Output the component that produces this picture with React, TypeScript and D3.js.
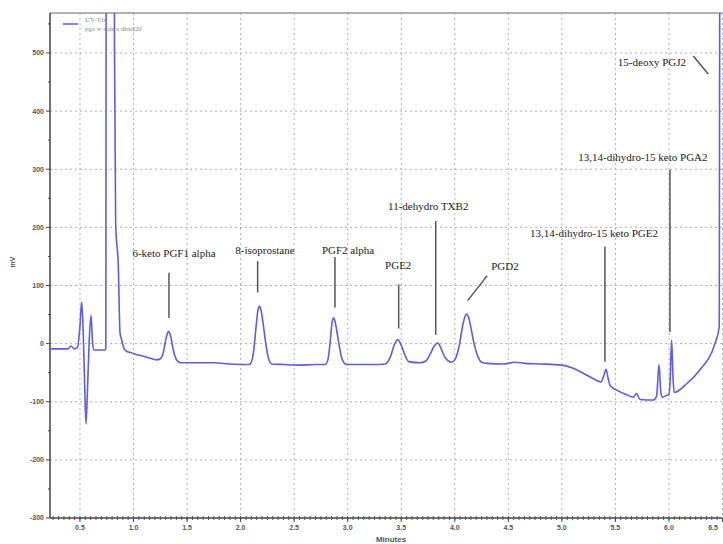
import React from 'react';
import * as d3 from 'd3';

// chromatogram trace (minutes, mV)
const retentionTimes = [
  0.22, 0.388, 0.416, 0.444, 0.475, 0.5, 0.516, 0.53, 0.545, 0.556, 0.568, 0.585, 0.603, 0.618, 0.632,
  0.735, 0.741, 0.746, 0.82, 0.822, 0.833, 0.858, 0.874, 0.889, 0.92, 0.998, 1.1, 1.216,
  1.25, 1.28, 1.3, 1.315, 1.327, 1.34, 1.355, 1.375, 1.41, 1.44, 1.6, 1.75, 1.9, 2.06,
  2.088, 2.12, 2.145, 2.162, 2.176, 2.19, 2.21, 2.235, 2.26, 2.29, 2.4, 2.55, 2.7,
  2.79, 2.815, 2.84, 2.855, 2.868, 2.882, 2.9, 2.925, 2.95, 2.99, 3.1, 3.25, 3.35,
  3.4, 3.435, 3.455, 3.468, 3.482, 3.505, 3.535, 3.57, 3.675, 3.73, 3.77, 3.805, 3.828, 3.842, 3.856, 3.88, 3.91, 3.971,
  4.0, 4.04, 4.075, 4.098, 4.112, 4.126, 4.15, 4.18, 4.215, 4.25, 4.3, 4.45, 4.562, 4.65, 4.8, 5.0,
  5.1, 5.2, 5.29, 5.365, 5.39, 5.412, 5.43, 5.45, 5.512, 5.605, 5.667, 5.698, 5.729, 5.854,
  5.885, 5.907, 5.925, 5.94, 5.979, 5.998, 6.01, 6.025, 6.038, 6.05, 6.165, 6.289, 6.429, 6.47, 6.476,
];
const signalMv = [
  -9, -9, -4, -9, -7, 30, 72, 20, -80, -138, -90, 0, 49, 0, -11,
  -11, -8, 900, 900, 517, 207, 132, 18, 6, -11, -17, -22, -28,
  -26, -14, 6, 17, 21, 17, 5, -14, -30, -33, -33, -33, -35, -36,
  -35, -15, 30, 58, 64, 58, 35, 0, -25, -35, -36, -37, -36,
  -36, -28, 10, 38, 44, 38, 20, -8, -28, -36, -36, -36, -35,
  -22, -2, 5, 7, 4, -5, -20, -31, -33, -30, -18, -5, 0, 1, -2, -12, -24, -32,
  -28, -5, 32, 48, 51, 47, 28, 0, -22, -32, -34, -35, -32, -34, -35, -37,
  -42, -51, -60, -66, -56, -44, -58, -72, -80, -88, -92, -86, -96, -97,
  -90, -36, -85, -92, -89, -88, -68, 6, -60, -84, -69, -45, 0, 29, 900,
];

// peak annotations: label, label anchor (min, mV), leader line from/to (min, mV)
const peakNames = [
  '6-keto PGF1 alpha', '8-isoprostane', 'PGF2 alpha', 'PGE2', '11-dehydro TXB2', 'PGD2',
  '13,14-dihydro-15 keto PGE2', '13,14-dihydro-15 keto PGA2', '15-deoxy PGJ2',
];
const labelAt = [
  [1.378, 155], [2.227, 160], [3.003, 160], [3.472, 135], [3.752, 237], [4.469, 134],
  [5.3, 190], [5.757, 321], [5.841, 485],
];
const leaderFrom = [
  [1.331, 122], [2.159, 142], [2.881, 149], [3.476, 102], [3.822, 211], [4.303, 117],
  [5.402, 167], [6.009, 299], [6.227, 495],
];
const leaderTo = [
  [1.331, 44], [2.159, 88], [2.881, 62], [3.476, 26], [3.822, 15], [4.12, 74],
  [5.402, -31], [6.009, 20], [6.367, 464],
];

const xTicks = [0.5, 1.0, 1.5, 2.0, 2.5, 3.0, 3.5, 4.0, 4.5, 5.0, 5.5, 6.0, 6.5];
const yTicks = [-300, -200, -100, 0, 100, 200, 300, 400, 500];
const legendLines = ['UV-Vis', 'pgs w stds a dhx020'];

const W = 723;
const H = 544;
const left = 50, right = 722.5, top = 13, bottom = 518;

export default function App() {
  const x = d3.scaleLinear().domain([0.22, 6.5]).range([left, right]);
  const y = d3.scaleLinear().domain([-300, 568.8]).range([bottom, top]);

  const pts = retentionTimes.map((t, i) => [t, signalMv[i]] as [number, number]);
  const line = d3.line<[number, number]>()
    .x(d => x(d[0]))
    .y(d => y(d[1]))
    .curve(d3.curveMonotoneX);

  const minorY = d3.range(-300, 569, 50);
  const minorX = d3.range(0.25, 6.5, 0.05);
  const axisFont = 'Arial, "Liberation Sans", sans-serif';

  return (
    <svg width={W} height={H} style={{ position: 'absolute', left: 0, top: 0, background: '#fff' }}>
      <defs>
        <clipPath id="plot">
          <rect x={left} y={top} width={right - left} height={bottom - top} />
        </clipPath>
      </defs>

      {/* grid */}
      {xTicks.map(t => (
        <line key={'gx' + t} x1={x(t)} x2={x(t)} y1={top} y2={bottom}
          stroke="#b0b0b0" strokeWidth={1} strokeDasharray="2,3" />
      ))}
      {yTicks.slice(1).map(v => (
        <line key={'gy' + v} x1={left} x2={right} y1={y(v)} y2={y(v)}
          stroke="#b0b0b0" strokeWidth={1} strokeDasharray="2,3" />
      ))}

      {/* frame */}
      <line x1={left} x2={right} y1={top} y2={top} stroke="#999" strokeWidth={1.5} />
      <line x1={left} x2={left} y1={top} y2={bottom} stroke="#444" strokeWidth={1.5} />
      <line x1={left} x2={right} y1={bottom} y2={bottom} stroke="#444" strokeWidth={1.5} />

      {/* y axis ticks */}
      {minorY.map(v => (
        <line key={'my' + v} x1={left - (v % 100 === 0 ? 4 : 2)} x2={left} y1={y(v)} y2={y(v)}
          stroke="#444" strokeWidth={1} />
      ))}
      {yTicks.map(v => (
        <text key={'ty' + v} x={left - 6} y={y(v)} dy="0.35em" textAnchor="end"
          fontSize={7} fontWeight="bold" fill="#555" fontFamily={axisFont}>{v}</text>
      ))}

      {/* x axis ticks */}
      {minorX.map(t => (
        <line key={'mx' + t.toFixed(2)} x1={x(t)} x2={x(t)} y1={bottom - 2} y2={bottom + 2}
          stroke="#555" strokeWidth={1} />
      ))}
      {xTicks.map(t => (
        <g key={'tx' + t}>
          <line x1={x(t)} x2={x(t)} y1={bottom} y2={bottom + 4} stroke="#444" strokeWidth={1} />
          <text x={Math.min(x(t), 713)} y={bottom + 12} textAnchor="middle" fontSize={7} fontWeight="bold"
            fill="#555" fontFamily={axisFont}>{t.toFixed(1)}</text>
        </g>
      ))}

      {/* axis titles */}
      <text x={391} y={542} textAnchor="middle" fontSize={8} fontWeight="bold" fill="#555"
        fontFamily={axisFont}>Minutes</text>
      <text transform={`translate(15,${262}) rotate(-90)`} textAnchor="middle" fontSize={7}
        fontWeight="bold" fill="#555" fontFamily={axisFont}>mV</text>

      {/* trace */}
      <path d={line(pts) || ''} fill="none" stroke="#5c5cee" strokeWidth={1.6} clipPath="url(#plot)" />

      {/* legend */}
      <line x1={63} x2={78} y1={24} y2={24} stroke="#5c5cee" strokeWidth={1.5} />
      {legendLines.map((s, i) => (
        <text key={s} x={85} y={22 + i * 9} fontSize={7} fill="#888"
          fontFamily='"Liberation Serif", serif'>{s}</text>
      ))}

      {/* peak annotations */}
      {peakNames.map((name, i) => (
        <g key={name}>
          <line x1={x(leaderFrom[i][0])} y1={y(leaderFrom[i][1])}
            x2={x(leaderTo[i][0])} y2={y(leaderTo[i][1])} stroke="#555" strokeWidth={1.5} />
          <text x={x(labelAt[i][0])} y={y(labelAt[i][1])} dy="0.35em" textAnchor="middle"
            fontSize={11} fill="#222" fontFamily='"Liberation Serif", "Times New Roman", serif'>{name}</text>
        </g>
      ))}
    </svg>
  );
}
